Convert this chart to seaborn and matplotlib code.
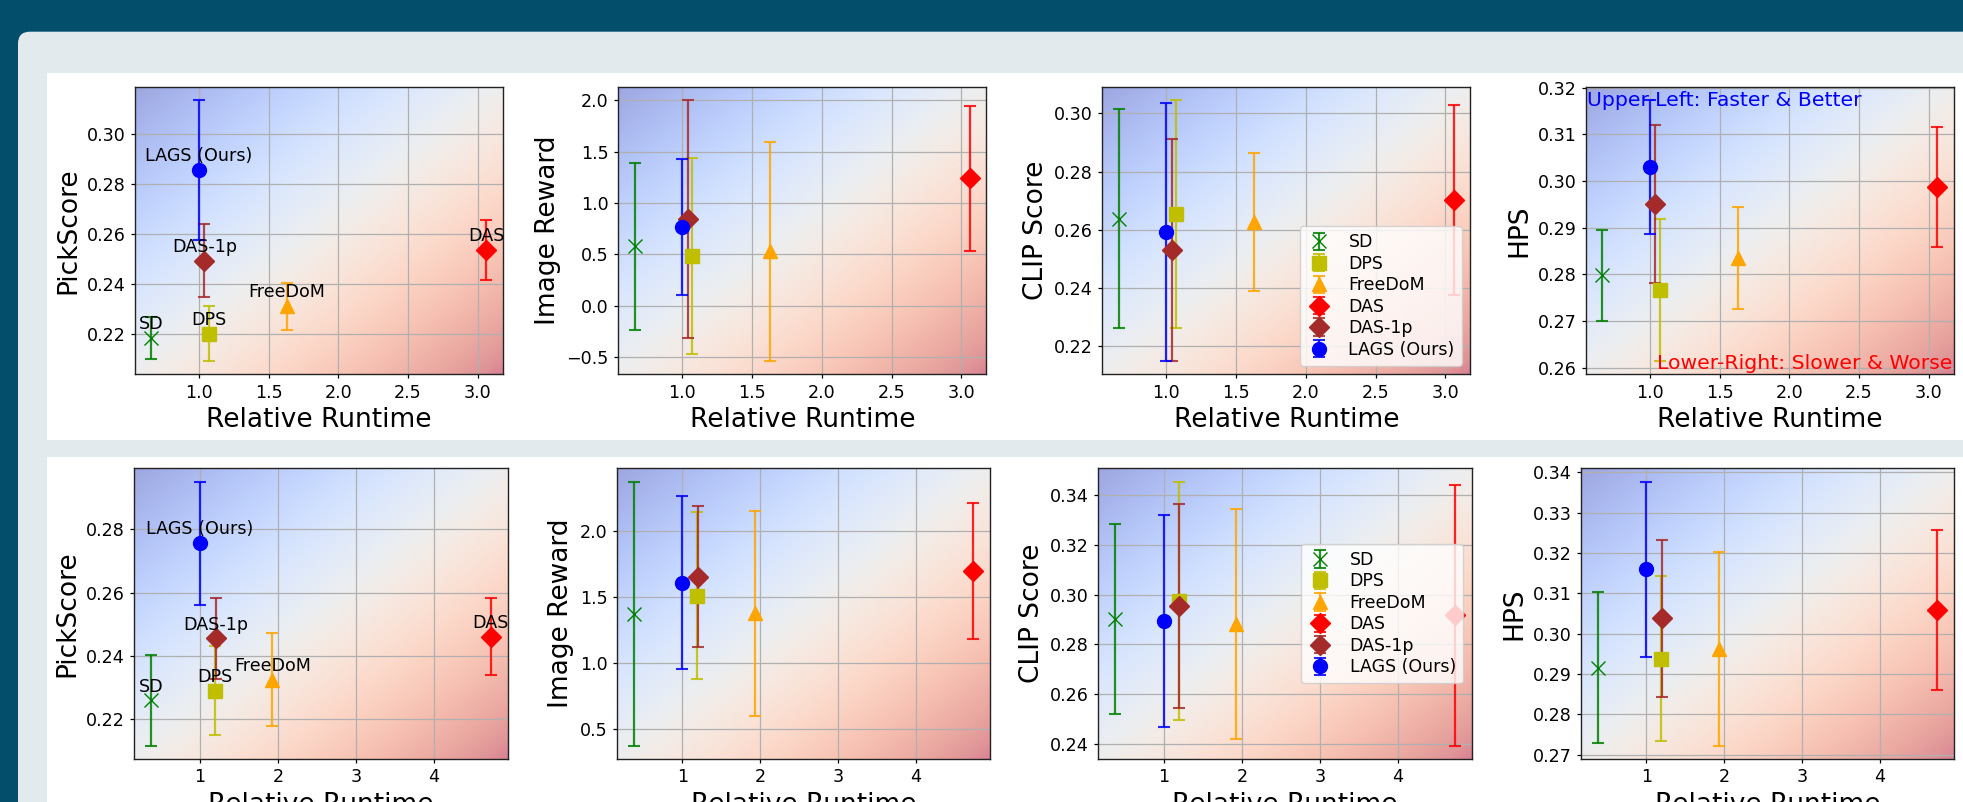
import numpy as np
import matplotlib
matplotlib.use("Agg")
import matplotlib.pyplot as plt
from matplotlib.patches import FancyBboxPatch, Rectangle
from matplotlib.colors import to_rgba
import seaborn as sns

# ---------------- data ----------------
methods = ["SD", "DPS", "FreeDoM", "DAS", "DAS-1p", "LAGS (Ours)"]
colors = ["#008000", "#bfbf00", "#ffa500", "#ff0000", "#a52a2a", "#0000ff"]
markers = ["x", "s", "^", "D", "D", "o"]

# top row
runtime_top = [0.66, 1.07, 1.63, 3.06, 1.04, 1.00]
pick_top = [0.2184, 0.2201, 0.2311, 0.2535, 0.2493, 0.2855]
pick_top_err = [0.0083, 0.0110, 0.0094, 0.0120, 0.0145, 0.0280]
ir_top = [0.578, 0.488, 0.530, 1.241, 0.847, 0.772]
ir_top_err = [0.810, 0.955, 1.070, 0.705, 1.160, 0.662]
clip_top = [0.2638, 0.2655, 0.2626, 0.2703, 0.2530, 0.2592]
clip_top_err = [0.0377, 0.0392, 0.0237, 0.0327, 0.0383, 0.0443]
hps_top = [0.2798, 0.2766, 0.2835, 0.2987, 0.2951, 0.3030]
hps_top_err = [0.0097, 0.0152, 0.0110, 0.0128, 0.0170, 0.0144]

# bottom row
runtime_bot = [0.376, 1.19, 1.93, 4.73, 1.20, 1.00]
pick_bot = [0.2260, 0.2291, 0.2326, 0.2461, 0.2456, 0.2756]
pick_bot_err = [0.0143, 0.0140, 0.0147, 0.0122, 0.0127, 0.0195]
ir_bot = [1.371, 1.508, 1.374, 1.695, 1.649, 1.606]
ir_bot_err = [1.000, 0.632, 0.774, 0.515, 0.534, 0.655]
clip_bot = [0.2903, 0.2976, 0.2883, 0.2917, 0.2954, 0.2893]
clip_bot_err = [0.0381, 0.0477, 0.0461, 0.0523, 0.0407, 0.0425]
hps_bot = [0.2916, 0.2938, 0.2962, 0.3059, 0.3038, 0.3159]
hps_bot_err = [0.0187, 0.0205, 0.0240, 0.0199, 0.0194, 0.0218]

xticks_top = [1.0, 1.5, 2.0, 2.5, 3.0]
xticks_bot = [1, 2, 3, 4]
pick_ticks_top = [0.22, 0.24, 0.26, 0.28, 0.30]
ir_ticks_top = [-0.5, 0.0, 0.5, 1.0, 1.5, 2.0]
clip_ticks_top = [0.22, 0.24, 0.26, 0.28, 0.30]
hps_ticks_top = [0.26, 0.27, 0.28, 0.29, 0.30, 0.31, 0.32]
pick_ticks_bot = [0.22, 0.24, 0.26, 0.28]
ir_ticks_bot = [0.5, 1.0, 1.5, 2.0]
clip_ticks_bot = [0.24, 0.26, 0.28, 0.30, 0.32, 0.34]
hps_ticks_bot = [0.27, 0.28, 0.29, 0.30, 0.31, 0.32, 0.33, 0.34]

xlabel = "Relative Runtime"
ylabels = ["PickScore", "Image Reward", "CLIP Score", "HPS"]
text_good = "Upper-Left: Faster & Better"
text_bad = "Lower-Right: Slower & Worse"

# ---------------- style ----------------
sns.set_theme(style="ticks", color_codes=False, rc={
    "axes.edgecolor": "#222222", "axes.linewidth": 1.0,
    "xtick.color": "black", "ytick.color": "black",
    "axes.labelcolor": "black", "text.color": "black",
    "xtick.major.size": 3.2, "ytick.major.size": 3.2,
    "xtick.major.width": 0.9, "ytick.major.width": 0.9,
    "grid.color": "#b0b0b0", "grid.linewidth": 0.9,
    "legend.frameon": True,
})
plt.rcParams["font.family"] = ["DejaVu Sans"]

W, H = 1963, 802
fig = plt.figure(figsize=(W / 100, H / 100), dpi=100)
fig.patch.set_facecolor("#024e6b")

# page background panels (pixel -> inch)
grey = FancyBboxPatch((0.18, -1.0), 25, (H - 31.7) / 100 + 1.0,
                      boxstyle="round,pad=0,rounding_size=0.12",
                      transform=fig.dpi_scale_trans, fc="#e3eaed", ec="none", zorder=-20)
fig.add_artist(grey)
fig.add_artist(Rectangle((0.47, (H - 440) / 100), 25, (440 - 72.7) / 100,
                         transform=fig.dpi_scale_trans, fc="white", ec="none", zorder=-15))
fig.add_artist(Rectangle((0.47, -1.0), 25, (H - 456.7) / 100 + 1.0,
                         transform=fig.dpi_scale_trans, fc="white", ec="none", zorder=-15))


def add_axes(left, top, width, height):
    return fig.add_axes([left / W, 1 - (top + height) / H, width / W, height / H])


grad_n = 256
gx = np.linspace(0, 1, grad_n)
grad = (gx[None, :] + gx[:, None]) / 2.0

TICK_FS = 12.6
LABEL_FS = 19
ANN_FS = 12.6
LEG_FS = 12.5


def panel(ax, x, y, err, ylabel, xt, yt, annotate=False, legend_loc=None, corner=False):
    for i in range(len(methods)):
        ax.errorbar(x[i], y[i], yerr=err[i], fmt=markers[i], color=colors[i],
                    ecolor=to_rgba(colors[i], 0.85), ms=10, capsize=4.3,
                    elinewidth=1.6, capthick=1.5, label=methods[i])
        if annotate:
            ax.annotate(methods[i], (x[i], y[i]), xytext=(0, 3.5),
                        textcoords="offset points", ha="center", va="bottom",
                        fontsize=ANN_FS)
    xl = ax.get_xlim()
    yl = ax.get_ylim()
    ax.imshow(grad, extent=(xl[0], xl[1], yl[0], yl[1]), aspect="auto",
              cmap="coolwarm", alpha=0.5, zorder=0, interpolation="bicubic")
    ax.set_xticks(xt)
    ax.set_yticks(yt)
    ax.set_xlim(xl)
    ax.set_ylim(yl)
    ax.grid(True)
    ax.tick_params(labelsize=TICK_FS)
    ax.set_xlabel(xlabel, fontsize=LABEL_FS)
    ax.set_ylabel(ylabel, fontsize=LABEL_FS)
    for s in ax.spines.values():
        s.set_visible(True)
    if legend_loc:
        ax.legend(loc=legend_loc, fontsize=LEG_FS, labelspacing=0.2,
                  handlelength=1.4, handletextpad=1.0, borderpad=0.4,
                  framealpha=0.8, edgecolor="#cccccc", fancybox=True)
    if corner:
        ax.text(0.003, 0.985, text_good, transform=ax.transAxes, color="blue",
                fontsize=14.7, ha="left", va="top")
        ax.text(0.997, 0.006, text_bad, transform=ax.transAxes, color="red",
                fontsize=14.7, ha="right", va="bottom")


top_lefts = [134.7, 618.3, 1102.3, 1585.7]
bot_lefts = [134.4, 616.7, 1098.3, 1580.7]

axs_top = [add_axes(l, 86.7, 368.0, 287.6) for l in top_lefts]
axs_bot = [add_axes(l, 468.3, 373.3, 290.7) for l in bot_lefts]

panel(axs_top[0], runtime_top, pick_top, pick_top_err, ylabels[0], xticks_top, pick_ticks_top, annotate=True)
panel(axs_top[1], runtime_top, ir_top, ir_top_err, ylabels[1], xticks_top, ir_ticks_top)
panel(axs_top[2], runtime_top, clip_top, clip_top_err, ylabels[2], xticks_top, clip_ticks_top, legend_loc="lower right")
panel(axs_top[3], runtime_top, hps_top, hps_top_err, ylabels[3], xticks_top, hps_ticks_top, corner=True)

panel(axs_bot[0], runtime_bot, pick_bot, pick_bot_err, ylabels[0], xticks_bot, pick_ticks_bot, annotate=True)
panel(axs_bot[1], runtime_bot, ir_bot, ir_bot_err, ylabels[1], xticks_bot, ir_ticks_bot)
panel(axs_bot[2], runtime_bot, clip_bot, clip_bot_err, ylabels[2], xticks_bot, clip_ticks_bot, legend_loc="center right")
panel(axs_bot[3], runtime_bot, hps_bot, hps_bot_err, ylabels[3], xticks_bot, hps_ticks_bot)

fig.savefig("out.png", dpi=100, facecolor=fig.get_facecolor())
